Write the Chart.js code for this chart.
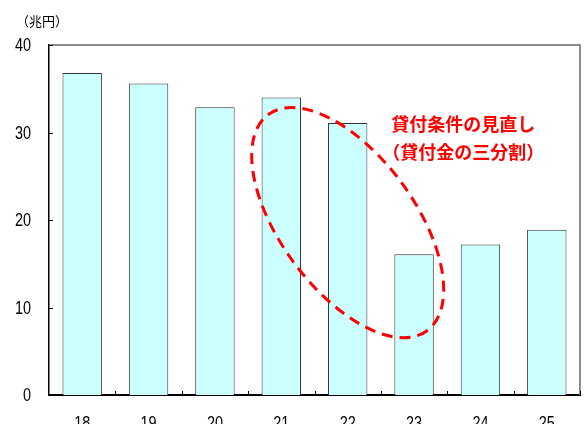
<!DOCTYPE html>
<html>
<head>
<meta charset="utf-8">
<script src="https://cdn.jsdelivr.net/npm/chart.js@4.4.1/dist/chart.umd.min.js"></script>
<style>
html, body { margin: 0; padding: 0; background: #fff; overflow: hidden; }
canvas { display: block; }
</style>
</head>
<body>
<canvas id="loanChart" width="585" height="440"></canvas>
<script>
// fiscal years (Heisei)
var years = ["18", "19", "20", "21", "22", "23", "24", "25"];
// loan balance, trillion yen
var balances = [36.8, 35.6, 32.9, 34.0, 31.1, 16.1, 17.2, 18.9];
var yTicks = [0, 10, 20, 30, 40];
var unitLabel = "（兆円）";
var noteLines = ["貸付条件の見直し", "（貸付金の三分割）"];

var numFont = "19px 'Liberation Sans', Arial, sans-serif";
var jpFont = "'Noto Sans CJK JP', sans-serif";

// narrow digits: squeeze the text horizontally
function narrowText(ctx, text, px, py, align, baseline) {
	ctx.save();
	ctx.translate(px, py);
	ctx.scale(0.76, 1);
	ctx.textAlign = align;
	ctx.textBaseline = baseline;
	ctx.fillText(text, 0, 0);
	ctx.restore();
}

// frame, inward ticks, tick labels, unit label and the dashed note
var decorations = {
	id: 'decorations',
	afterDatasetsDraw: function(chart) {
		var ctx = chart.ctx;
		var area = chart.chartArea;
		var x = chart.scales.x;
		var y = chart.scales.y;
		var step = x.width / years.length;

		ctx.save();

		// gray frame on top and right
		ctx.strokeStyle = '#8c8c8c';
		ctx.lineWidth = 2;
		ctx.beginPath();
		ctx.moveTo(area.left, area.top);
		ctx.lineTo(area.right, area.top);
		ctx.lineTo(area.right, area.bottom);
		ctx.stroke();

		// short ticks pointing into the plot
		ctx.strokeStyle = '#000';
		ctx.lineWidth = 1;
		ctx.beginPath();
		yTicks.forEach(function(v) {
			var py = Math.round(y.getPixelForValue(v)) + 0.5;
			ctx.moveTo(area.left, py);
			ctx.lineTo(area.left + 4, py);
		});
		for (var i = 1; i <= years.length; i++) {
			var px = Math.round(x.getPixelForValue(i - 0.5)) + 0.5;
			ctx.moveTo(px, area.bottom);
			ctx.lineTo(px, area.bottom - 4);
		}
		ctx.stroke();

		// tick labels
		ctx.fillStyle = '#000';
		ctx.font = numFont;
		yTicks.forEach(function(v) {
			narrowText(ctx, String(v), area.left - 18, y.getPixelForValue(v) + 1, 'right', 'middle');
		});
		years.forEach(function(label, i) {
			narrowText(ctx, label, x.getPixelForValue(i), area.bottom + 19, 'center', 'top');
		});

		// unit
		ctx.font = "13px " + jpFont;
		ctx.textAlign = 'left';
		ctx.textBaseline = 'middle';
		ctx.fillText(unitLabel, 16, 21);

		// dashed ellipse around 21-23
		var cx = x.getPixelForValue(4);
		var cy = y.getPixelForValue(19.7);
		ctx.strokeStyle = '#ff0000';
		ctx.lineWidth = 3;
		ctx.setLineDash([11, 7]);
		ctx.beginPath();
		ctx.ellipse(cx, cy, 2.02 * step, 1.01 * step, 53.7 * Math.PI / 180, 0, Math.PI * 2);
		ctx.stroke();
		ctx.setLineDash([]);

		// note text
		ctx.fillStyle = '#ff0000';
		ctx.font = "bold 18px " + jpFont;
		ctx.textAlign = 'center';
		var tx = x.getPixelForValue(5.74);
		ctx.fillText(noteLines[0], tx, y.getPixelForValue(30.9));
		ctx.fillText(noteLines[1], tx, y.getPixelForValue(27.7));

		ctx.restore();
	}
};

var chart = new Chart(document.getElementById("loanChart").getContext("2d"), {
	type: 'bar',
	data: {
		labels: years,
		datasets: [{
			data: balances,
			backgroundColor: '#ccffff',
			borderColor: '#333333',
			borderWidth: 1,
			borderSkipped: 'bottom',
			categoryPercentage: 1,
			barPercentage: 0.594
		}]
	},
	options: {
		responsive: false,
		animation: false,
		layout: { padding: { top: 45, right: 5, left: 0, bottom: 0 } },
		plugins: {
			legend: { display: false },
			tooltip: { enabled: false }
		},
		scales: {
			x: {
				grid: { display: false, drawTicks: false },
				border: { color: '#000', width: 2 },
				ticks: { display: false },
				afterFit: function(scale) { scale.height = 45; }
			},
			y: {
				min: 0,
				max: 40,
				grid: { display: false, drawTicks: false },
				border: { color: '#000', width: 1.5 },
				ticks: { display: false, stepSize: 10 },
				afterFit: function(scale) { scale.width = 49; }
			}
		}
	},
	plugins: [decorations]
});
</script>
</body>
</html>
